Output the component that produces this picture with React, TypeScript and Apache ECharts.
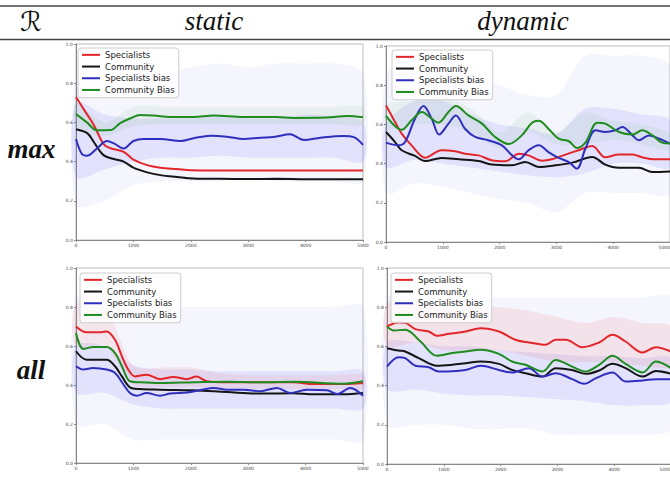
import React, { useEffect, useRef } from "react";
import * as echarts from "echarts";

const NAMES = ["Specialists", "Community", "Specialists bias", "Community Bias"];
const COLORS = ["#e3262a", "#151515", "#2f2fbd", "#1e8c1e"];
const COLUMN_TITLES = ["static", "dynamic"];
const ROW_TITLES = ["max", "all"];
const X_BAND = [0, 500, 1000, 1500, 2000, 2500, 3000, 3500, 4000, 4500, 5000];

// ---- static / max ----
const tlSpec = [[0,0.73],[150,0.66],[310,0.587],[480,0.49],[600,0.468],[830,0.45],[1000,0.41],[1240,0.382],[1470,0.369],[1760,0.362],[2000,0.356],[2500,0.355],[3000,0.355],[3500,0.355],[4000,0.355],[4500,0.355],[5000,0.355]];
const tlComm = [[0,0.565],[200,0.544],[310,0.5],[480,0.433],[660,0.413],[830,0.4],[1000,0.369],[1240,0.345],[1470,0.331],[1760,0.322],[2050,0.314],[2500,0.312],[3000,0.311],[3500,0.312],[4000,0.31],[4500,0.31],[5000,0.31]];
const tlSpecBias = [[0,0.515],[100,0.44],[190,0.43],[365,0.467],[540,0.505],[660,0.493],[830,0.467],[1000,0.505],[1180,0.515],[1470,0.515],[1820,0.505],[2050,0.519],[2340,0.532],[2630,0.527],[2920,0.515],[3210,0.522],[3440,0.525],[3730,0.539],[3970,0.51],[4260,0.522],[4660,0.531],[4840,0.525],[5000,0.485]];
const tlCommBias = [[0,0.643],[190,0.6],[365,0.56],[600,0.561],[770,0.596],[950,0.621],[1120,0.638],[1350,0.635],[1640,0.628],[2050,0.628],[2400,0.635],[2920,0.628],[3500,0.628],[3790,0.623],[4370,0.625],[4720,0.633],[5000,0.626]];
const tlInnerLo = [0.32,0.36,0.4,0.42,0.42,0.43,0.42,0.42,0.42,0.42,0.4];
const tlInnerHi = [0.7,0.64,0.62,0.62,0.62,0.63,0.62,0.62,0.64,0.63,0.6];
const tlOuterLo = [0.18,0.2,0.28,0.3,0.3,0.3,0.32,0.3,0.3,0.3,0.3];
const tlOuterHi = [0.8,0.8,0.85,0.85,0.88,0.9,0.88,0.9,0.9,0.9,0.85];
const tlGreenLo = [0.58,0.53,0.58,0.59,0.59,0.59,0.59,0.59,0.59,0.59,0.59];
const tlGreenHi = [0.7,0.6,0.68,0.68,0.68,0.68,0.68,0.68,0.68,0.68,0.68];

// ---- dynamic / max ----
const trSpec = [[0,0.697],[160,0.612],[276,0.553],[450,0.493],[690,0.43],[980,0.468],[1220,0.463],[1390,0.45],[1630,0.442],[1860,0.417],[2100,0.412],[2340,0.45],[2510,0.442],[2750,0.415],[2920,0.422],[3160,0.446],[3390,0.468],[3630,0.49],[3860,0.432],[4100,0.446],[4340,0.446],[4510,0.432],[4750,0.422],[5000,0.422]];
const trComm = [[0,0.561],[160,0.51],[276,0.468],[510,0.439],[690,0.413],[980,0.429],[1280,0.422],[1630,0.413],[1860,0.395],[2220,0.391],[2450,0.408],[2690,0.383],[2980,0.391],[3280,0.405],[3630,0.434],[3860,0.395],[4100,0.379],[4450,0.379],[4690,0.357],[5000,0.36]];
const trSpecBias = [[0,0.507],[220,0.493],[335,0.51],[510,0.629],[660,0.694],[805,0.629],[935,0.548],[1100,0.604],[1230,0.646],[1390,0.578],[1570,0.536],[1800,0.519],[2040,0.493],[2220,0.442],[2340,0.422],[2510,0.468],[2690,0.493],[2860,0.459],[3040,0.429],[3220,0.408],[3360,0.374],[3510,0.476],[3690,0.57],[3860,0.561],[4040,0.57],[4160,0.587],[4340,0.544],[4450,0.519],[4630,0.544],[4810,0.527],[5000,0.502]];
const trCommBias = [[0,0.643],[276,0.573],[450,0.621],[630,0.663],[805,0.629],[920,0.609],[1100,0.663],[1230,0.694],[1450,0.646],[1690,0.604],[1920,0.536],[2160,0.5],[2390,0.544],[2570,0.609],[2690,0.619],[2860,0.578],[3040,0.527],[3220,0.514],[3360,0.48],[3510,0.507],[3720,0.609],[3860,0.604],[4100,0.561],[4340,0.548],[4510,0.57],[4690,0.544],[4860,0.507],[5000,0.502]];
const trInnerLo = [0.38,0.42,0.4,0.38,0.36,0.34,0.33,0.35,0.4,0.4,0.38];
const trInnerHi = [0.6,0.72,0.72,0.65,0.6,0.58,0.55,0.68,0.68,0.65,0.62];
const trOuterLo = [0.25,0.3,0.28,0.25,0.22,0.2,0.15,0.25,0.25,0.25,0.25];
const trOuterHi = [0.85,0.95,0.95,0.85,0.8,0.75,0.75,0.95,0.95,0.95,0.9];
const trGreenLo = [0.58,0.6,0.6,0.56,0.48,0.56,0.5,0.5,0.52,0.5,0.47];
const trGreenHi = [0.7,0.72,0.74,0.68,0.56,0.66,0.56,0.66,0.62,0.6,0.55];

// ---- static / all ----
const blSpec = [[0,0.7],[186,0.67],[420,0.67],[535,0.675],[680,0.632],[800,0.547],[910,0.479],[1030,0.444],[1230,0.453],[1465,0.43],[1700,0.441],[1930,0.43],[2100,0.444],[2280,0.419],[2630,0.414],[3210,0.414],[3790,0.414],[4140,0.405],[4660,0.405],[5000,0.41]];
const blComm = [[0,0.573],[186,0.53],[535,0.53],[680,0.496],[800,0.444],[940,0.388],[1115,0.379],[1465,0.376],[2050,0.373],[2630,0.364],[3210,0.356],[3790,0.358],[4140,0.352],[4660,0.352],[5000,0.359]];
const blSpecBias = [[0,0.496],[128,0.479],[300,0.487],[535,0.479],[680,0.462],[800,0.414],[940,0.359],[1060,0.345],[1230,0.359],[1465,0.345],[1640,0.356],[1930,0.362],[2160,0.373],[2400,0.385],[2630,0.376],[2920,0.376],[3210,0.368],[3500,0.385],[3730,0.359],[4020,0.376],[4370,0.373],[4550,0.354],[4780,0.385],[5000,0.345]];
const blCommBias = [[0,0.667],[128,0.585],[300,0.595],[535,0.595],[680,0.564],[800,0.496],[940,0.419],[1115,0.414],[1465,0.41],[2050,0.414],[2630,0.417],[3210,0.414],[3790,0.417],[4660,0.407],[5000,0.419]];
const blInnerLo = [0.36,0.36,0.3,0.28,0.28,0.28,0.28,0.28,0.28,0.28,0.28];
const blInnerHi = [0.6,0.6,0.5,0.48,0.48,0.47,0.47,0.47,0.47,0.47,0.47];
const blOuterLo = [0.2,0.2,0.12,0.12,0.12,0.12,0.12,0.12,0.12,0.12,0.12];
const blOuterHi = [0.85,0.85,0.8,0.8,0.8,0.8,0.8,0.8,0.8,0.8,0.8];
const blRedLo = [0.6,0.6,0.4,0.39,0.39,0.38,0.38,0.38,0.38,0.38,0.38];
const blRedHi = [0.82,0.8,0.5,0.49,0.49,0.46,0.45,0.45,0.45,0.45,0.45];

// ---- dynamic / all ----
const brSpec = [[0,0.702],[206,0.722],[320,0.72],[500,0.688],[735,0.676],[880,0.654],[1090,0.664],[1380,0.676],[1650,0.693],[1970,0.676],[2260,0.634],[2560,0.617],[2790,0.608],[2970,0.634],[3150,0.634],[3440,0.596],[3735,0.62],[3970,0.659],[4200,0.625],[4500,0.569],[4735,0.596],[5000,0.574]];
const brComm = [[0,0.591],[206,0.579],[320,0.574],[560,0.54],[880,0.501],[1150,0.506],[1380,0.514],[1650,0.523],[1970,0.511],[2200,0.48],[2440,0.463],[2735,0.446],[2970,0.489],[3260,0.48],[3500,0.46],[3735,0.477],[3970,0.511],[4200,0.489],[4500,0.446],[4735,0.474],[5000,0.46]];
const brSpecBias = [[0,0.497],[206,0.545],[320,0.54],[500,0.501],[735,0.494],[910,0.472],[1380,0.48],[1650,0.501],[1970,0.48],[2200,0.467],[2500,0.489],[2735,0.446],[2970,0.463],[3260,0.433],[3470,0.409],[3680,0.438],[3970,0.467],[4200,0.421],[4500,0.426],[4735,0.433],[5000,0.433]];
const brCommBias = [[0,0.702],[118,0.681],[320,0.685],[590,0.625],[880,0.552],[1150,0.566],[1380,0.574],[1650,0.583],[1970,0.562],[2200,0.523],[2440,0.506],[2735,0.472],[2970,0.531],[3260,0.497],[3500,0.472],[3735,0.506],[3970,0.552],[4200,0.511],[4500,0.467],[4735,0.523],[5000,0.489]];
const brInnerLo = [0.38,0.38,0.36,0.35,0.35,0.34,0.33,0.32,0.3,0.3,0.32];
const brInnerHi = [0.62,0.62,0.6,0.6,0.58,0.57,0.56,0.55,0.55,0.54,0.54];
const brOuterLo = [0.2,0.2,0.2,0.18,0.18,0.18,0.15,0.15,0.15,0.15,0.18];
const brOuterHi = [0.85,0.85,0.85,0.85,0.85,0.85,0.85,0.85,0.85,0.85,0.85];
const brRedLo = [0.6,0.62,0.58,0.58,0.58,0.55,0.52,0.52,0.52,0.5,0.5];
const brRedHi = [0.82,0.82,0.8,0.8,0.8,0.78,0.75,0.72,0.75,0.72,0.7];

const PLOTS = [
  { lines: [tlSpec, tlComm, tlSpecBias, tlCommBias],
    bands: [[tlOuterLo, tlOuterHi, "rgba(90,90,235,0.06)"], [tlInnerLo, tlInnerHi, "rgba(90,90,235,0.12)"], [tlGreenLo, tlGreenHi, "rgba(60,160,60,0.08)"]],
    grid: { left: 76, top: 44, width: 287, height: 196 }, legend: { left: 78, top: 48 } },
  { lines: [trSpec, trComm, trSpecBias, trCommBias],
    bands: [[trOuterLo, trOuterHi, "rgba(90,90,235,0.06)"], [trInnerLo, trInnerHi, "rgba(90,90,235,0.12)"], [trGreenLo, trGreenHi, "rgba(60,160,60,0.07)"]],
    grid: { left: 386, top: 46, width: 284, height: 196 }, legend: { left: 392, top: 50 } },
  { lines: [blSpec, blComm, blSpecBias, blCommBias],
    bands: [[blOuterLo, blOuterHi, "rgba(90,90,235,0.06)"], [blInnerLo, blInnerHi, "rgba(90,90,235,0.12)"], [blRedLo, blRedHi, "rgba(240,90,90,0.10)"]],
    grid: { left: 76, top: 268, width: 287, height: 195 }, legend: { left: 80, top: 273 } },
  { lines: [brSpec, brComm, brSpecBias, brCommBias],
    bands: [[brOuterLo, brOuterHi, "rgba(90,90,235,0.06)"], [brInnerLo, brInnerHi, "rgba(90,90,235,0.12)"], [brRedLo, brRedHi, "rgba(240,90,90,0.12)"]],
    grid: { left: 387, top: 268, width: 284, height: 196 }, legend: { left: 391, top: 273 } },
];

const TICK_FONT = { fontSize: 4.5, color: "#444", fontFamily: "DejaVu Sans" };

function buildOption() {
  const grid: any[] = [];
  const xAxis: any[] = [];
  const yAxis: any[] = [];
  const legend: any[] = [];
  const series: any[] = [];
  PLOTS.forEach((p, i) => {
    const rightCol = i % 2 === 1;
    grid.push({ ...p.grid, show: true, borderColor: "#bbb", borderWidth: 1, outerBoundsMode: "none", containLabel: false });
    xAxis.push({
      gridIndex: i, type: "value", min: 0, max: 5000, interval: 1000,
      axisLine: { show: true, lineStyle: { color: "#888", width: 1 } },
      axisTick: { show: true, length: 2, lineStyle: { color: "#888" } },
      axisLabel: { ...TICK_FONT, margin: 3, formatter: (v: number) => String(v), alignMaxLabel: rightCol ? "right" : undefined },
      splitLine: { show: false },
    });
    yAxis.push({
      gridIndex: i, type: "value", min: 0, max: 1, interval: 0.2,
      axisLine: { show: true, lineStyle: { color: "#888", width: 1 } },
      axisTick: { show: true, length: 2, lineStyle: { color: "#888" } },
      axisLabel: { ...TICK_FONT, margin: 3, formatter: (v: number) => v.toFixed(1) },
      splitLine: { show: false },
    });
    legend.push({
      data: NAMES, orient: "vertical", left: p.legend.left, top: p.legend.top,
      icon: "rect", itemWidth: 18, itemHeight: 2, itemGap: 0, padding: [1, 4, 2, 4],
      borderColor: "#ccc", borderWidth: 1, borderRadius: 3, backgroundColor: "rgba(255,255,255,0.8)",
      textStyle: { fontSize: 8.5, fontFamily: "DejaVu Sans", color: "#222", lineHeight: 11.7 },
      selectedMode: false,
    });
    p.bands.forEach((b: any, j: number) => {
      const [lo, hi, color] = b;
      const rows = X_BAND.map((x, k) => [x, lo[k], hi[k]]);
      series.push({
        type: "custom", name: `band${i}_${j}`, xAxisIndex: i, yAxisIndex: i, silent: true, z: 1,
        data: [[0, 0, 0]],
        encode: { x: 0, y: 1 },
        renderItem: (_params: any, api: any) => {
          const top = rows.map((r) => api.coord([r[0], r[2]]));
          const bottom = rows.slice().reverse().map((r) => api.coord([r[0], r[1]]));
          return {
            type: "polygon",
            shape: { points: top.concat(bottom), smooth: 0.3 },
            style: { fill: color, stroke: "none" },
          };
        },
      });
    });
    p.lines.forEach((d, k) => {
      series.push({
        type: "line", name: NAMES[k], xAxisIndex: i, yAxisIndex: i, data: d,
        symbol: "none", showSymbol: false, smooth: 0.35,
        lineStyle: { width: 2, color: COLORS[k] }, itemStyle: { color: COLORS[k] }, z: 3,
      });
    });
  });

  const serif = '"Liberation Serif", "DejaVu Serif", serif';
  const graphic = [
    { type: "line", shape: { x1: 0, y1: 6, x2: 670, y2: 6 }, style: { stroke: "#444", lineWidth: 1.6 } },
    { type: "line", shape: { x1: 0, y1: 39.5, x2: 670, y2: 39.5 }, style: { stroke: "#444", lineWidth: 1.6 } },
    { type: "text", x: 31, y: 21, style: { text: "ℛ", fontSize: 27, fontFamily: '"DejaVu Sans", "DejaVu Serif"', fill: "#111", align: "center", verticalAlign: "middle" } },
    { type: "text", x: 214, y: 21, style: { text: COLUMN_TITLES[0], fontSize: 27, fontStyle: "italic", fontFamily: serif, fill: "#111", align: "center", verticalAlign: "middle" } },
    { type: "text", x: 523, y: 21, style: { text: COLUMN_TITLES[1], fontSize: 27, fontStyle: "italic", fontFamily: serif, fill: "#111", align: "center", verticalAlign: "middle" } },
    { type: "text", x: 31.5, y: 149, style: { text: ROW_TITLES[0], fontSize: 27, fontStyle: "italic", fontWeight: "bold", fontFamily: serif, fill: "#111", align: "center", verticalAlign: "middle" } },
    { type: "text", x: 31, y: 370, style: { text: ROW_TITLES[1], fontSize: 27, fontStyle: "italic", fontWeight: "bold", fontFamily: serif, fill: "#111", align: "center", verticalAlign: "middle" } },
  ];

  return { animation: false, backgroundColor: "#fff", grid, xAxis, yAxis, legend, series, graphic };
}

export default function App() {
  const ref = useRef<HTMLDivElement>(null);
  useEffect(() => {
    if (!ref.current) return;
    const chart = echarts.init(ref.current, null, { renderer: "svg" });
    chart.setOption(buildOption() as any);
    return () => chart.dispose();
  }, []);
  return <div ref={ref} style={{ position: "absolute", left: 0, top: 0, width: 670, height: 486 }} />;
}
